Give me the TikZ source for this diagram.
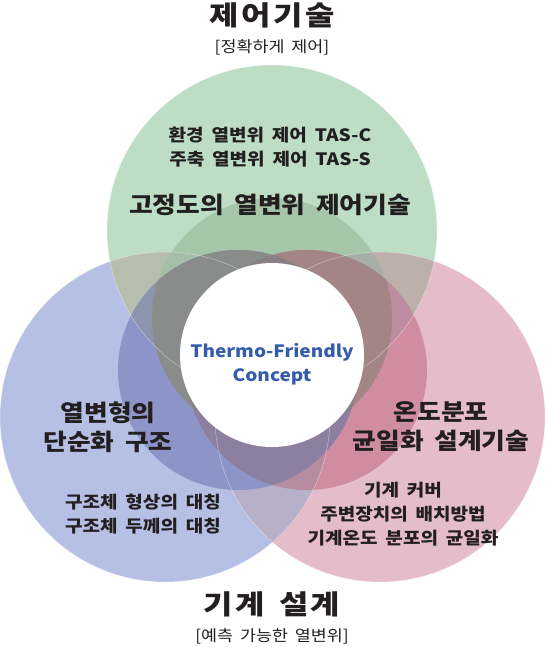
\documentclass[tikz,border=0pt]{standalone}
\usepackage{fontspec}
\usepackage{xcolor}
\setmainfont{Noto Sans CJK KR}[FakeStretch=1.12, WordSpace=1.8]
\newfontfamily\ktitle{Noto Sans CJK KR Black}[FakeStretch=1.18, LetterSpace=10, WordSpace=1.4]
\usetikzlibrary{positioning}
\definecolor{ink}{RGB}{35,31,32}
\definecolor{conceptblue}{RGB}{52,92,170}
% single circles
\definecolor{ctrlgreen}{RGB}{189,222,197}
\definecolor{structblue}{RGB}{182,192,228}
\definecolor{thermpink}{RGB}{228,188,202}
\definecolor{ctrlgreendk}{RGB}{165,198,168}
\definecolor{structbluedk}{RGB}{140,148,200}
\definecolor{thermpinkdk}{RGB}{208,140,160}
% overlaps
\definecolor{ctrlstruct}{RGB}{186,190,174}
\definecolor{ctrltherm}{RGB}{190,175,170}
\definecolor{structtherm}{RGB}{186,176,200}
\definecolor{ctrlstructdk}{RGB}{138,140,140}
\definecolor{ctrlthermdk}{RGB}{163,133,133}
\definecolor{structthermdk}{RGB}{140,127,160}
\tikzset{
  bigring/.style={blend mode=darken},
  smallring/.style={blend mode=darken},
  rimline/.style={draw=white, line width=0.5pt, opacity=0.45},
  titletext/.style={font=\ktitle\fontsize{27}{30}\selectfont, text=ink},
  subtext/.style={font=\fontsize{15.5}{18}\selectfont, text=ink},
  headtext/.style={align=center, font=\bfseries\fontsize{23}{29}\selectfont, text=ink},
  itemtext/.style={align=center, font=\bfseries\fontsize{17}{24}\selectfont, text=ink},
  concepttext/.style={align=center, font=\bfseries\fontsize{17}{24}\selectfont, text=conceptblue}
}

\begin{document}
\begin{tikzpicture}[x=1pt, y=-1pt]
  \fill[white] (0,0) rectangle (546,647);
  \useasboundingbox (0,0) rectangle (546,647);

  % circle centres
  \coordinate (ctrlc) at (272,230);
  \coordinate (structc) at (165,417);
  \coordinate (thermc) at (380,417);
  \coordinate (ctrlin) at (272,318);
  \coordinate (structin) at (238,370);
  \coordinate (thermin) at (307,370);
  \coordinate (core) at (272,355);

  % big circles
  \fill[bigring, fill=ctrlgreen] (ctrlc) circle (165pt);
  \fill[bigring, fill=structblue] (structc) circle (165pt);
  \fill[bigring, fill=thermpink] (thermc) circle (165pt);
  \begin{scope}
    \clip (ctrlc) circle (165pt);
    \fill[bigring, fill=ctrlstruct] (structc) circle (165pt);
    \fill[bigring, fill=ctrltherm] (thermc) circle (165pt);
  \end{scope}
  \begin{scope}
    \clip (structc) circle (165pt);
    \fill[bigring, fill=structtherm] (thermc) circle (165pt);
  \end{scope}

  % inner circles
  \fill[smallring, fill=ctrlgreendk] (ctrlin) circle (120pt);
  \fill[smallring, fill=structbluedk] (structin) circle (120pt);
  \fill[smallring, fill=thermpinkdk] (thermin) circle (120pt);
  \begin{scope}
    \clip (ctrlin) circle (120pt);
    \fill[smallring, fill=ctrlstructdk] (structin) circle (120pt);
    \fill[smallring, fill=ctrlthermdk] (thermin) circle (120pt);
  \end{scope}
  \begin{scope}
    \clip (structin) circle (120pt);
    \fill[smallring, fill=structthermdk] (thermin) circle (120pt);
  \end{scope}

  \draw[rimline] (ctrlc) circle (165pt);
  \draw[rimline] (structc) circle (165pt);
  \draw[rimline] (thermc) circle (165pt);
  \fill[white] (core) circle (92pt);

  % titles
  \node[titletext] (ctrltitle) at (272,15) {제어기술};
  \node[subtext] (ctrlsub) at (272,47) {[정확하게 제어]};
  \node[titletext] (designtitle) at (272,604) {기계 설계};
  \node[subtext] (designsub) at (272,636) {[예측 가능한 열변위]};

  % green circle
  \node[itemtext] (ctrlitems) at (270,147) {환경 열변위 제어 TAS-C\\주축 열변위 제어 TAS-S};
  \node[headtext] (ctrlhead) at (270,205) {고정도의 열변위 제어기술};

  % centre
  \node[concepttext] (concept) at (272,364) {Thermo-Friendly\\Concept};

  % blue circle
  \node[headtext] (structhead) at (108,427) {열변형의\\단순화 구조};
  \node[itemtext] (structitems) at (143,514) {구조체 형상의 대칭\\구조체 두께의 대칭};

  % pink circle
  \node[headtext] (thermhead) at (441,427) {온도분포\\균일화 설계기술};
  \node[itemtext] (thermitems) at (403,514) {기계 커버\\주변장치의 배치방법\\기계온도 분포의 균일화};
\end{tikzpicture}
\end{document}
